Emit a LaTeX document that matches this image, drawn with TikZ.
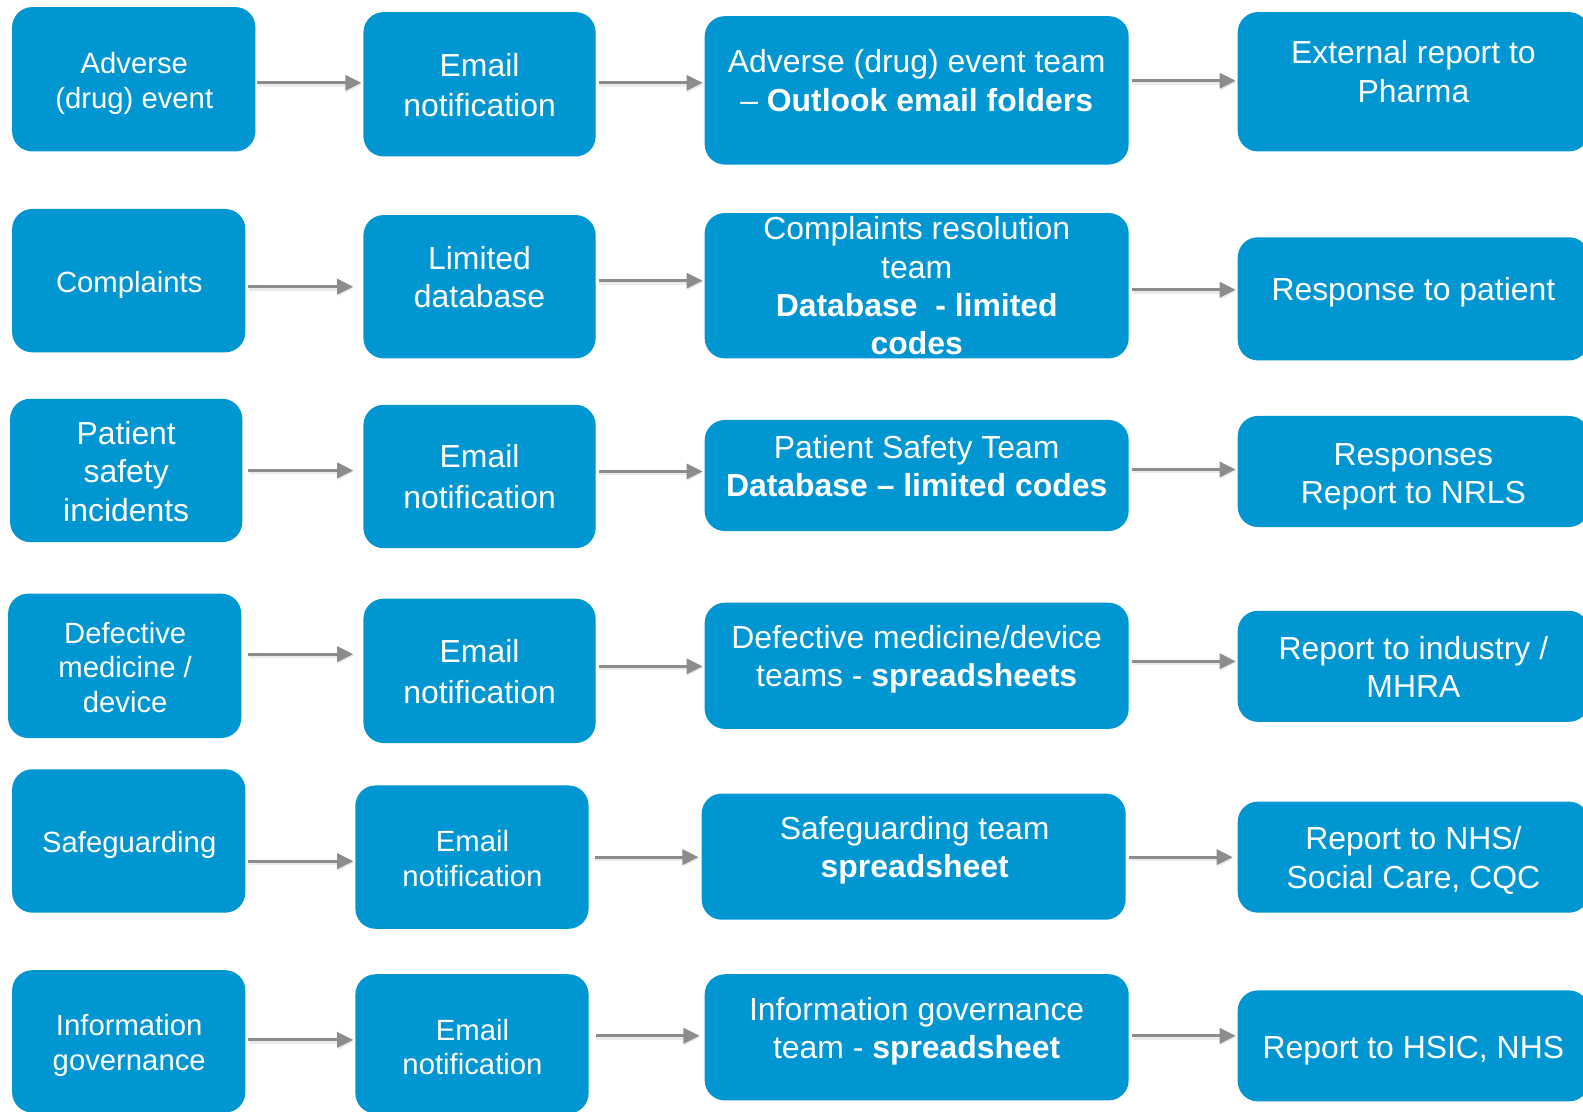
\documentclass[tikz,border=0pt]{standalone}
\usepackage{fontspec}
\setmainfont{Liberation Sans}
\usetikzlibrary{fit,arrows.meta}
\definecolor{boxblue}{RGB}{0,150,210}
\definecolor{arrgray}{RGB}{140,140,140}
\begin{document}
\begin{tikzpicture}[x=1pt,y=-1pt,
  box/.style={fill=boxblue, draw=none, rounded corners=20pt, inner sep=0pt, outer sep=0pt},
  txt/.style={text=white, align=center, inner sep=0pt},
  big/.style={txt, font=\fontsize{31.6}{38}\selectfont},
  bigE/.style={txt, font=\fontsize{31.6}{40}\selectfont},
  small/.style={txt, font=\fontsize{29}{34.5}\selectfont},
  arr/.style={draw=arrgray, line width=3pt, -{Triangle[length=16pt,width=15pt]},
    preaction={draw=black!8, line width=4.5pt, transform canvas={shift={(0.8pt,-1.6pt)}}}}
]
\clip (0,0) rectangle (1568,1101);

% ---------- boxes ----------
\node[box, fit={(12,7)(253,150)}]     (a1) {};
\node[box, fit={(360,12)(590,155)}]   (b1) {};
\node[box, fit={(698,16)(1118,163)}]  (c1) {};
\node[box, fit={(1226,12)(1574,150)}] (d1) {};

\node[box, fit={(12,207)(243,349)}]    (a2) {};
\node[box, fit={(360,213)(590,355)}]   (b2) {};
\node[box, fit={(698,211)(1118,355)}]  (c2) {};
\node[box, fit={(1226,235)(1574,357)}] (d2) {};

\node[box, fit={(10,395)(240,537)}]    (a3) {};
\node[box, fit={(360,401)(590,543)}]   (b3) {};
\node[box, fit={(698,416)(1118,526)}]  (c3) {};
\node[box, fit={(1226,412)(1574,522)}] (d3) {};

\node[box, fit={(8,588)(239,731)}]     (a4) {};
\node[box, fit={(360,593)(590,736)}]   (b4) {};
\node[box, fit={(698,597)(1118,722)}]  (c4) {};
\node[box, fit={(1226,605)(1574,715)}] (d4) {};

\node[box, fit={(12,762)(243,904)}]    (a5) {};
\node[box, fit={(352,778)(583,920)}]   (b5) {};
\node[box, fit={(695,786)(1115,911)}]  (c5) {};
\node[box, fit={(1226,794)(1574,904)}] (d5) {};

\node[box, fit={(12,961)(243,1102)}]    (a6) {};
\node[box, fit={(352,965)(583,1103)}]   (b6) {};
\node[box, fit={(698,965)(1118,1090)}]  (c6) {};
\node[box, fit={(1226,981)(1574,1091)}] (d6) {};

% ---------- texts ----------
\node[small] (ta1) at (133,83)    {\strut Adverse\\\strut (drug) event};
\node[bigE]  (tb1) at (475,87.5)  {\strut Email\\\strut notification};
\node[big]   (tc1) at (908,83.5)  {\strut Adverse (drug) event team\\\strut -- \textbf{Outlook email folders}};
\node[big]   (td1) at (1400,74.5) {\strut External report to\\\strut Pharma};

\node[small] (ta2) at (128,282.5) {\strut Complaints};
\node[big]   (tb2) at (475,278)   {\strut Limited\\\strut database};
\node[big]   (tc2) at (908,287)   {\strut Complaints resolution\\\strut team\\\strut \textbf{Database~ - limited}\\\strut \textbf{codes}};
\node[big]   (td2) at (1400,290.5){\strut Response to patient};

\node[big]   (ta3) at (125,470.5) {\strut Patient\\\strut safety\\\strut incidents};
\node[bigE]  (tb3) at (475,475.5) {\strut Email\\\strut notification};
\node[big]   (tc3) at (908,465.5) {\strut Patient Safety Team\\\strut \textbf{Database -- limited codes}};
\node[big]   (td3) at (1400,472)  {\strut Responses\\\strut Report to NRLS};

\node[small] (ta4) at (124,664.5) {\strut Defective\\\strut medicine /\\\strut device};
\node[bigE]  (tb4) at (475,668.5) {\strut Email\\\strut notification};
\node[big]   (tc4) at (908,653.5) {\strut Defective medicine/device\\\strut teams - \textbf{spreadsheets}};
\node[big]   (td4) at (1400,664.5){\strut Report to industry /\\\strut MHRA};

\node[small] (ta5) at (128,837.5) {\strut Safeguarding};
\node[small] (tb5) at (468,853.5) {\strut Email\\\strut notification};
\node[big]   (tc5) at (906,843)   {\strut Safeguarding team\\\strut \textbf{spreadsheet}};
\node[big]   (td5) at (1400,853)  {\strut Report to NHS/\\\strut Social Care, CQC};

\node[small] (ta6) at (128,1036.5){\strut Information\\\strut governance};
\node[small] (tb6) at (468,1040.5){\strut Email\\\strut notification};
\node[big]   (tc6) at (908,1022)  {\strut Information governance\\\strut team - \textbf{spreadsheet}};
\node[big]   (td6) at (1400,1040.5){\strut Report to HSIC, NHS};

% ---------- arrow levels ----------
\coordinate (l1ab) at (0,82);   \coordinate (l1bc) at (0,82);   \coordinate (l1cd) at (0,80);
\coordinate (l2ab) at (0,284);  \coordinate (l2bc) at (0,278);  \coordinate (l2cd) at (0,287);
\coordinate (l3ab) at (0,466);  \coordinate (l3bc) at (0,467);  \coordinate (l3cd) at (0,465);
\coordinate (l4ab) at (0,648);  \coordinate (l4bc) at (0,660);  \coordinate (l4cd) at (0,655);
\coordinate (l5ab) at (0,853);  \coordinate (l5bc) at (0,849);  \coordinate (l5cd) at (0,849);
\coordinate (l6ab) at (0,1030); \coordinate (l6bc) at (0,1026); \coordinate (l6cd) at (0,1026);

% ---------- arrows ----------
\draw[arr, shorten <=2pt, shorten >=2pt]  (a1.east |- l1ab) -- (b1.west |- l1ab);
\draw[arr, shorten <=3pt, shorten >=2pt]  (b1.east |- l1bc) -- (c1.west |- l1bc);
\draw[arr, shorten <=3pt, shorten >=2pt]  (c1.east |- l1cd) -- (d1.west |- l1cd);

\draw[arr, shorten <=3pt, shorten >=10pt] (a2.east |- l2ab) -- (b2.west |- l2ab);
\draw[arr, shorten <=3pt, shorten >=2pt]  (b2.east |- l2bc) -- (c2.west |- l2bc);
\draw[arr, shorten <=3pt, shorten >=2pt]  (c2.east |- l2cd) -- (d2.west |- l2cd);

\draw[arr, shorten <=6pt, shorten >=10pt] (a3.east |- l3ab) -- (b3.west |- l3ab);
\draw[arr, shorten <=3pt, shorten >=2pt]  (b3.east |- l3bc) -- (c3.west |- l3bc);
\draw[arr, shorten <=3pt, shorten >=2pt]  (c3.east |- l3cd) -- (d3.west |- l3cd);

\draw[arr, shorten <=7pt, shorten >=10pt] (a4.east |- l4ab) -- (b4.west |- l4ab);
\draw[arr, shorten <=3pt, shorten >=2pt]  (b4.east |- l4bc) -- (c4.west |- l4bc);
\draw[arr, shorten <=3pt, shorten >=2pt]  (c4.east |- l4cd) -- (d4.west |- l4cd);

\draw[arr, shorten <=3pt, shorten >=2pt]  (a5.east |- l5ab) -- (b5.west |- l5ab);
\draw[arr, shorten <=6pt, shorten >=3pt]  (b5.east |- l5bc) -- (c5.west |- l5bc);
\draw[arr, shorten <=3pt, shorten >=5pt]  (c5.east |- l5cd) -- (d5.west |- l5cd);

\draw[arr, shorten <=3pt, shorten >=2pt]  (a6.east |- l6ab) -- (b6.west |- l6ab);
\draw[arr, shorten <=7pt, shorten >=5pt]  (b6.east |- l6bc) -- (c6.west |- l6bc);
\draw[arr, shorten <=3pt, shorten >=2pt]  (c6.east |- l6cd) -- (d6.west |- l6cd);
\end{tikzpicture}
\end{document}
